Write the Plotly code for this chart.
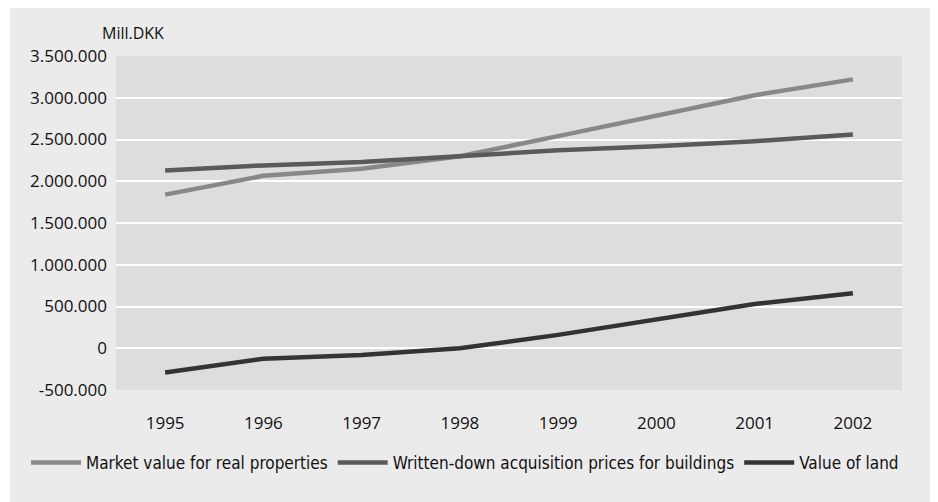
import plotly.graph_objects as go

years = ["1995", "1996", "1997", "1998", "1999", "2000", "2001", "2002"]
market_value = [1840000, 2065000, 2150000, 2300000, 2540000, 2780000, 3030000, 3220000]
written_down = [2130000, 2190000, 2230000, 2300000, 2370000, 2420000, 2480000, 2560000]
value_land = [-290000, -125000, -80000, 0, 160000, 350000, 530000, 660000]
series_names = ["Market value for real properties",
                "Written-down acquisition prices for buildings",
                "Value of land"]
colors = ["#888888", "#5a5a5a", "#333333"]
tick_vals = [-500000, 0, 500000, 1000000, 1500000, 2000000, 2500000, 3000000, 3500000]
tick_text = ["-500.000", "0", "500.000", "1.000.000", "1.500.000", "2.000.000",
             "2.500.000", "3.000.000", "3.500.000"]

fig = go.Figure()
for name, vals, c in zip(series_names, [market_value, written_down, value_land], colors):
    fig.add_trace(go.Scatter(x=years, y=vals, mode="lines", name=name,
                             line=dict(color=c, width=4.5)))

W, H = 930, 494
L, R, T, B = 108, 36, 48, 112
PW, PH = W - L - R, H - T - B
fig.update_layout(
    width=W, height=H,
    paper_bgcolor="#ebebeb",
    plot_bgcolor="#dddddd",
    separators=",.",
    margin=dict(l=L, r=R, t=T, b=B, autoexpand=False),
    font=dict(family="Open Sans", size=17, color="#111111"),
    showlegend=True,
    legend=dict(orientation="h", x=-90/PW, xref="paper", y=-73/PH, yanchor="middle",
                xanchor="left", bgcolor="rgba(0,0,0,0)",
                font=dict(family="DejaVu Sans Condensed, DejaVu Sans", size=17,
                          color="#111111"),
                itemwidth=50, tracegroupgap=0),
    xaxis=dict(type="category", range=[-0.5, 7.5], showgrid=False, zeroline=False,
               ticks="", tickfont=dict(family="Open Sans", size=17), ticklabelstandoff=21),
    yaxis=dict(range=[-500000, 3500000], tickvals=tick_vals, ticktext=tick_text,
               showgrid=True, gridcolor="white", gridwidth=2, zeroline=False,
               tickfont=dict(family="Open Sans", size=17), ticklabelstandoff=8),
    shapes=[dict(type="rect", xref="paper", yref="paper",
                 x0=-L/PW, x1=-(L - 2)/PW, y0=-B/PH, y1=1 + T/PH,
                 fillcolor="white", line=dict(width=0))],
    annotations=[dict(text="Mill.DKK", xref="paper", yref="paper", x=-16/PW, y=1 + 23/PH,
                      xanchor="left", yanchor="middle", showarrow=False,
                      font=dict(family="Open Sans", size=16))],
)
fig.write_html("out.html")
